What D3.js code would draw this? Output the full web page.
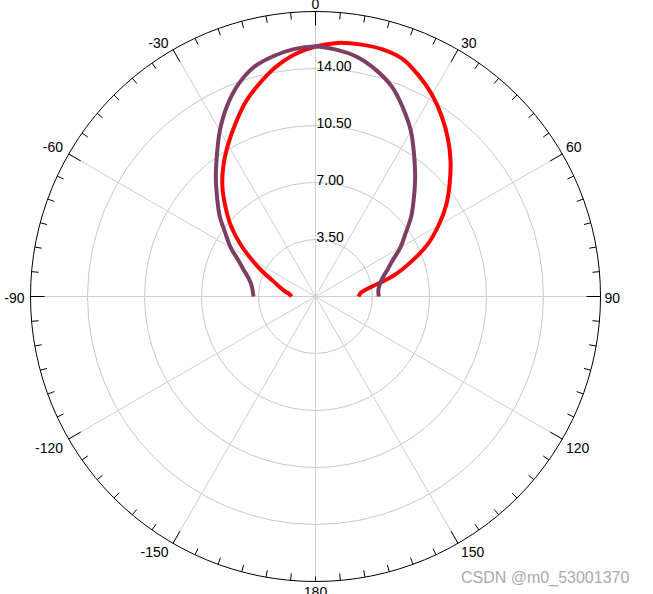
<!DOCTYPE html>
<html><head><meta charset="utf-8">
<script src="https://cdn.jsdelivr.net/npm/d3@7"></script>
<style>body{margin:0;background:#fff}svg{display:block}</style>
</head><body><svg id="chart" width="653" height="594"></svg>
<script>
const angles = [-90,-85,-80,-75,-70,-65,-60,-55,-50,-45,-40,-35,-30,-25,-20,-15,-10,-5,0,5,10,15,20,25,30,35,40,45,50,55,60,65,70,75,80,85,90];
const seriesRed = [1.47,1.60,1.93,2.30,2.76,3.56,4.51,5.65,6.79,7.83,8.90,9.85,10.75,11.67,12.65,13.48,14.28,14.92,15.35,15.63,15.72,15.72,15.54,14.98,14.31,13.51,12.65,11.73,10.75,9.80,8.72,7.61,6.26,4.97,3.53,2.81,2.64];
const seriesPurple = [3.81,3.87,3.99,4.24,4.67,5.22,6.02,6.75,7.68,8.54,9.52,10.56,11.75,12.88,13.86,14.59,14.98,15.25,15.35,15.20,14.92,14.39,13.71,12.74,11.72,10.56,9.52,8.54,7.68,6.75,6.02,5.22,4.67,4.24,3.99,3.87,3.89];
const radialTicks = [3.5,7,10.5,14];
const radialTickLabels = ["3.50","7.00","10.50","14.00"];
const radialMax = 17.5;
const angleTicks = [0,30,60,90,120,150,180,-150,-120,-90,-60,-30];
const angleTickLabels = ["0","30","60","90","120","150","180","-150","-120","-90","-60","-30"];
const watermark = "CSDN @m0_53001370";

const cx = 315.5, cy = 296.5, R = 285;
const FONT = "'Liberation Sans', Arial, sans-serif";
const svg = d3.select("#chart");
const g = svg.append("g").attr("transform", `translate(${cx},${cy})`);
const r = d3.scaleLinear().domain([0, radialMax]).range([0, R]);
const rad = d => d * Math.PI / 180;

// rings
g.selectAll("circle.ring").data(radialTicks).join("circle")
  .attr("r", d => r(d)).attr("fill", "none").attr("stroke", "#c8c8c8").attr("stroke-width", 1);
// spokes
g.selectAll("line.spoke").data(angleTicks).join("line")
  .attr("x1", 0).attr("y1", 0)
  .attr("x2", d => r(radialMax) * Math.sin(rad(d)))
  .attr("y2", d => -r(radialMax) * Math.cos(rad(d)))
  .attr("stroke", "#cfcfcf").attr("stroke-width", 1);
// outer circle
g.append("circle").attr("r", r(radialMax)).attr("fill", "none").attr("stroke", "#000").attr("stroke-width", 1);
// ticks
const minorTicks = d3.range(-175, 185, 5);
const tickLen = d => d === 180 ? 5 : (d % 30 === 0 ? 14 : 7);
g.selectAll("line.tick").data(minorTicks).join("line")
  .attr("x1", d => R * Math.sin(rad(d))).attr("y1", d => -R * Math.cos(rad(d)))
  .attr("x2", d => (R - tickLen(d)) * Math.sin(rad(d)))
  .attr("y2", d => -(R - tickLen(d)) * Math.cos(rad(d)))
  .attr("stroke", "#000").attr("stroke-width", 1);

// radial labels
g.selectAll("text.rl").data(radialTicks).join("text")
  .attr("x", 1).attr("y", d => -r(d) + 2)
  .attr("font-family", FONT).attr("font-size", 14).attr("fill", "#000")
  .text((d, i) => radialTickLabels[i]);

// angle labels
angleTicks.forEach((a, i) => {
  const s = Math.sin(rad(a)), c = Math.cos(rad(a));
  const px = R * s, py = -R * c;
  let x, y, anchor, base = "auto";
  if (Math.abs(s) < 1e-6) {
    anchor = "middle"; x = px;
    y = c > 0 ? py - 3 : py + 15;
  } else if (Math.abs(c) < 1e-6) {
    anchor = s > 0 ? "start" : "end";
    x = s > 0 ? px + 4 : px - 6;
    y = 1; base = "central";
  } else {
    anchor = s > 0 ? "start" : "end";
    x = s > 0 ? px + 2 + 2 * Math.abs(s) : px - 3 - 3 * Math.abs(s);
    y = c > 0 ? py - 2 : py + 14;
  }
  g.append("text").attr("x", x).attr("y", y).attr("text-anchor", anchor)
    .attr("dominant-baseline", base)
    .attr("font-family", FONT).attr("font-size", 14).attr("fill", "#000")
    .text(angleTickLabels[i]);
});

// curves
const line = d3.lineRadial()
  .angle(d => rad(d[0])).radius(d => r(d[1]))
  .curve(d3.curveCatmullRom.alpha(0.5));
g.append("path").datum(angles.map((a, i) => [a, seriesRed[i]]))
  .attr("d", line).attr("fill", "none").attr("stroke", "#ff0000").attr("stroke-width", 4);
g.append("path").datum(angles.map((a, i) => [a, seriesPurple[i]]))
  .attr("d", line).attr("fill", "none").attr("stroke", "#7c3f63").attr("stroke-width", 4);

// watermark
svg.append("text").attr("x", 461).attr("y", 583)
  .attr("font-family", FONT).attr("font-size", 16).attr("fill", "#aaaaaa")
  .text(watermark);
</script></body></html>
